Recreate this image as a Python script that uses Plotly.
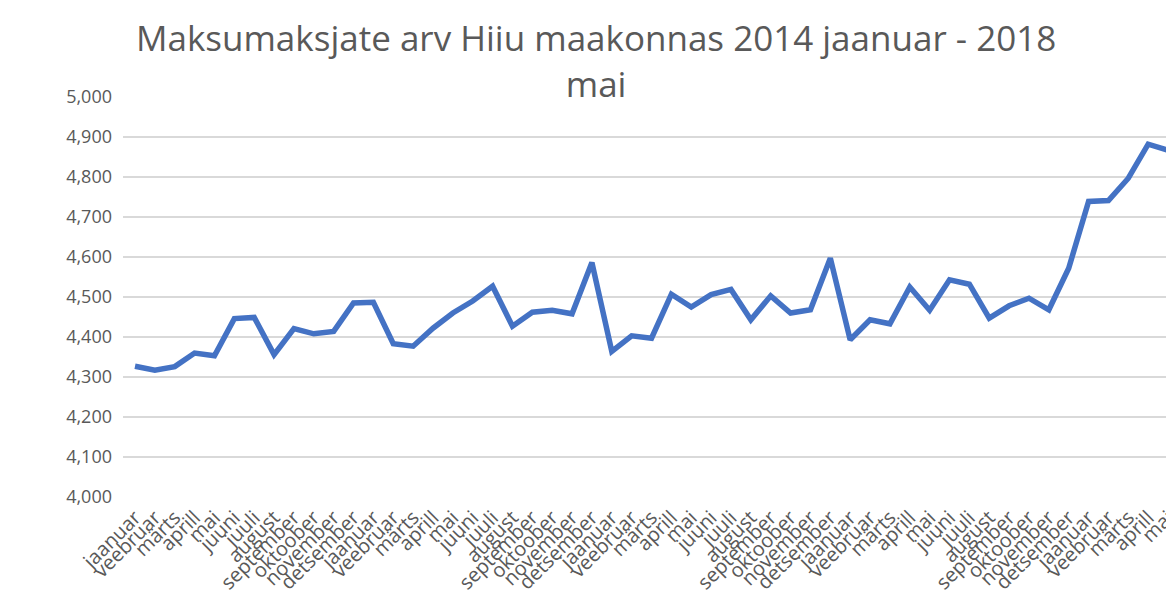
import plotly.graph_objects as go

months = ["jaanuar", "veebruar", "märts", "aprill", "mai", "juuni", "juuli",
          "august", "september", "oktoober", "november", "detsember"]
# 2014 jaanuar ... 2018 mai
labels = months * 4 + months[:5]

values = [4327, 4317, 4326, 4360, 4353, 4446, 4449, 4356, 4421, 4408,
          4414, 4485, 4487, 4383, 4377, 4422, 4460, 4490, 4527, 4427,
          4462, 4467, 4458, 4586, 4364, 4403, 4397, 4507, 4475, 4506,
          4519, 4443, 4503, 4460, 4468, 4597, 4393, 4443, 4433, 4525,
          4467, 4543, 4532, 4447, 4478, 4497, 4468, 4572, 4739, 4741,
          4797, 4882, 4867]

title_text = "Maksumaksjate arv Hiiu maakonnas 2014 jaanuar - 2018<br>mai"
y_ticks = [4000, 4100, 4200, 4300, 4400, 4500, 4600, 4700, 4800, 4900, 5000]

x = list(range(len(values)))

fig = go.Figure()
fig.add_trace(go.Scatter(
    x=x, y=values, mode="lines",
    line=dict(color="#4472C4", width=5.5),
    showlegend=False,
))

fig.update_layout(
    width=1174, height=605,
    paper_bgcolor="white", plot_bgcolor="white",
    margin=dict(l=115, r=8, t=89, b=116, autoexpand=False),
    font=dict(family="Open Sans", color="#595959"),
    annotations=[dict(
        text=title_text, xref="paper", yref="paper",
        x=0.45, y=1.09, xanchor="center", yanchor="middle",
        showarrow=False, align="center",
        font=dict(family="Open Sans", size=35, color="#595959"),
    )],
)

fig.update_xaxes(
    tickmode="array", tickvals=x, ticktext=labels,
    tickangle=-45, tickfont=dict(size=20, color="#595959"),
    range=[-0.604, 52.3], showgrid=False, zeroline=False,
    showline=False, ticks="", automargin=False, ticklabelstandoff=4,
)
fig.update_yaxes(
    range=[4000, 5000], tickvals=y_ticks, tickformat=",",
    tickfont=dict(size=18, color="#595959"),
    showgrid=True, gridcolor="#d9d9d9", gridwidth=1.5,
    zeroline=False, showline=False, ticks="", ticklabelstandoff=10,
    automargin=False,
)

fig.write_html("out.html")
